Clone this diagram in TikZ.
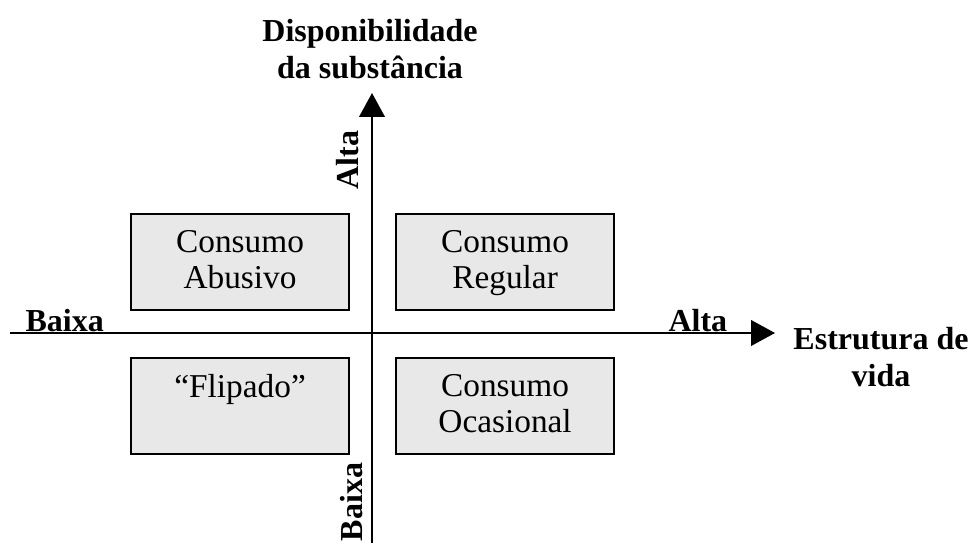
\documentclass[tikz,border=0pt]{standalone}
\usepackage{fontspec}
\setmainfont{Liberation Serif}
\usetikzlibrary{arrows.meta,positioning}
\definecolor{quadgray}{RGB}{232,232,232}
\tikzset{
  >={Triangle[length=9pt,width=9.6pt]},
  axis/.style={->,line width=0.8pt},
  quad/.style={draw=black,fill=quadgray,line width=0.8pt,inner sep=0pt,
    anchor=north west,font=\fontsize{12.5}{13.5}\selectfont},
  lbl/.style={font=\fontsize{12}{14}\selectfont\bfseries,inner sep=0pt},
}
\newcommand{\quadtext}[1]{\parbox[c][36pt][t]{81.75pt}{\vspace*{6pt}\centering #1}}

\begin{document}
\begin{tikzpicture}[x=0.375pt,y=-0.375pt]
  \useasboundingbox (0,0) rectangle (979,545);
  % axes
  \coordinate (xl) at (10,333); \coordinate (xr) at (775,333);
  \coordinate (yb) at (372,543); \coordinate (yt) at (372,93);
  \draw[axis] (xl) -- (xr);
  \draw[axis] (yb) -- (yt);
  % quadrants
  \node[quad] (abusivo) at (130,213) {\quadtext{Consumo\\Abusivo}};
  \node[quad] (regular) at (395,213) {\quadtext{Consumo\\Regular}};
  \node[quad] (flipado) at (130,357) {\quadtext{``Flipado''}};
  \node[quad] (ocasional) at (395,357) {\quadtext{Consumo\\Ocasional}};
  % axis labels
  \node[lbl,align=center] (disp) at (370,49) {Disponibilidade\\da substância};
  \node[lbl,align=center] (estr) at (881,357) {Estrutura de\\vida};
  \node[lbl,anchor=base west] (xlow) at (25,331) {Baixa};
  \node[lbl,anchor=base west] (xhigh) at (668,331) {Alta};
  \node[lbl,rotate=90,anchor=base] (yhigh) at (358,160) {Alta};
  \node[lbl,rotate=90,anchor=base] (ylow) at (362,502) {Baixa};
\end{tikzpicture}
\end{document}
